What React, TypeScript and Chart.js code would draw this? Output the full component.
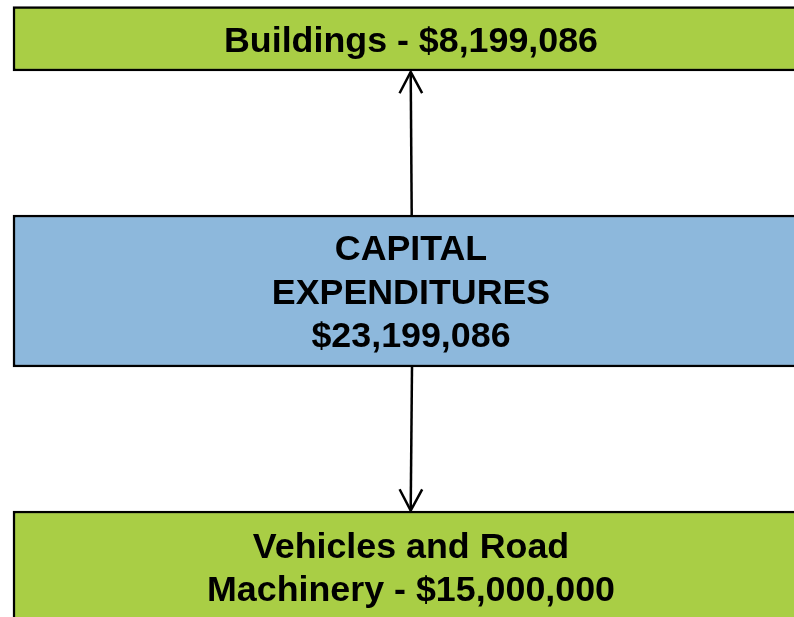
import React, { useEffect, useRef } from "react";
import { Chart, registerables } from "chart.js";

Chart.register(...registerables);

// Diagram data (in diagram units that map through linear scales)
const boxNames = ["Buildings", "Capital Expenditures", "Vehicles and Road Machinery"];
const boxLabels: string[][] = [
  ["Buildings - $8,199,086"],
  ["CAPITAL", "EXPENDITURES", "$23,199,086"],
  ["Vehicles and Road", "Machinery - $15,000,000"],
];
const boxCenterX = [411, 411, 411];
const boxRanges: [number, number][] = [
  [6.5, 71],
  [215, 367],
  [511, 622],
];
const boxColors = ["#A9CE45", "#8DB8DC", "#A9CE45"];
// Arrows: from (start) -> (tip)
const arrowUp = [
  { x: 411.7, y: 215 },
  { x: 410.7, y: 72 },
];
const arrowDown = [
  { x: 412, y: 367 },
  { x: 410.7, y: 510.5 },
];

const W = 794;
const H = 617;

const labelPlugin = {
  id: "boxLabels",
  afterDatasetsDraw(chart: any) {
    const ctx = chart.ctx;
    const meta = chart.getDatasetMeta(0);
    ctx.save();
    ctx.fillStyle = "#000000";
    ctx.font = "bold 35.8px 'Liberation Sans', Arial, sans-serif";
    ctx.textAlign = "center";
    ctx.textBaseline = "middle";
    const lineH = 43.5;
    meta.data.forEach((el: any, i: number) => {
      const lines = boxLabels[i];
      const cy = (el.y + el.base) / 2;
      const start = cy - ((lines.length - 1) * lineH) / 2;
      lines.forEach((t, j) => {
        ctx.fillText(t, el.x, start + j * lineH + 3);
      });
    });
    ctx.restore();
  },
};

const arrowHeadPlugin = {
  id: "arrowHeads",
  afterDatasetsDraw(chart: any) {
    const ctx = chart.ctx;
    [1, 2].forEach((di) => {
      const meta = chart.getDatasetMeta(di);
      const pts = meta.data;
      if (!pts || pts.length < 2) return;
      const a = pts[pts.length - 2];
      const b = pts[pts.length - 1];
      const ang = Math.atan2(b.y - a.y, b.x - a.x);
      const len = 24;
      const spread = 0.49;
      ctx.save();
      ctx.strokeStyle = "#000000";
      ctx.lineWidth = 2.5;
      ctx.lineCap = "butt";
      ctx.lineJoin = "miter";
      ctx.beginPath();
      ctx.moveTo(b.x - len * Math.cos(ang - spread), b.y - len * Math.sin(ang - spread));
      ctx.lineTo(b.x, b.y);
      ctx.lineTo(b.x - len * Math.cos(ang + spread), b.y - len * Math.sin(ang + spread));
      ctx.stroke();
      ctx.restore();
    });
  },
};

export default function App() {
  const ref = useRef<HTMLCanvasElement | null>(null);
  useEffect(() => {
    if (!ref.current) return;
    const chart = new Chart(ref.current, {
      type: "bar",
      data: {
        labels: boxNames,
        datasets: [
          {
            type: "bar",
            label: "Boxes",
            data: boxRanges.map((r, i) => ({ x: boxCenterX[i], y: r })) as any,
            backgroundColor: boxColors,
            borderColor: "#000000",
            borderWidth: 2.5,
            borderSkipped: false,
            barThickness: 796,
            grouped: false,
            order: 2,
          } as any,
          {
            type: "line",
            label: "Arrow up",
            data: arrowUp as any,
            borderColor: "#000000",
            borderWidth: 2.5,
            pointRadius: 0,
            fill: false,
            order: 1,
          } as any,
          {
            type: "line",
            label: "Arrow down",
            data: arrowDown as any,
            borderColor: "#000000",
            borderWidth: 2.5,
            pointRadius: 0,
            fill: false,
            order: 1,
          } as any,
        ],
      },
      options: {
        responsive: false,
        animation: false,
        maintainAspectRatio: false,
        layout: { padding: 0 },
        parsing: true,
        scales: {
          x: { type: "linear", min: 0, max: W, display: false, offset: false },
          y: { type: "linear", min: 0, max: H, reverse: true, display: false, beginAtZero: false },
        },
        plugins: {
          legend: { display: false },
          tooltip: { enabled: false },
          title: { display: false },
        },
      } as any,
      plugins: [labelPlugin, arrowHeadPlugin],
    });
    return () => chart.destroy();
  }, []);
  return (
    <div style={{ position: "absolute", left: 0, top: 0, width: W, height: H, background: "#ffffff" }}>
      <canvas ref={ref} width={W} height={H} style={{ display: "block" }} />
    </div>
  );
}
